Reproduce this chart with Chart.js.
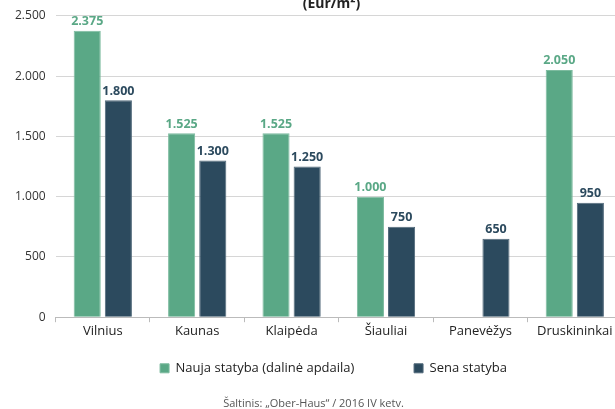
<!DOCTYPE html>
<html>
<head>
<meta charset="utf-8">
<script src="https://cdn.jsdelivr.net/npm/chart.js@4/dist/chart.umd.min.js"></script>
<style>
  html, body { margin: 0; padding: 0; background: #fff; overflow: hidden; }
  .wrap { position: absolute; left: 0; top: -11px; width: 622px; height: 422px; }
</style>
</head>
<body>
<div class="wrap"><canvas id="chart"></canvas></div>
<script>
// Chart values
const cities = ['Vilnius', 'Kaunas', 'Klaipėda', 'Šiauliai', 'Panevėžys', 'Druskininkai'];
const newBuild = [2375, 1525, 1525, 1000, null, 2050];
const oldBuild = [1800, 1300, 1250, 750, 650, 950];
const seriesNames = ['Nauja statyba (dalinė apdaila)', 'Sena statyba'];
const titleText = '(Eur/m²)';
const sourceText = 'Šaltinis: „Ober-Haus“ / 2016 IV ketv.';

const GREEN = '#5aa886';
const NAVY = '#2c4a5e';
const FONT = '"Open Sans", "DejaVu Sans", sans-serif';

function fmt(v) {
    return String(v).replace(/\B(?=(\d{3})+(?!\d))/g, '.');
}

// Draws the bold value above each bar
const valueLabels = {
    id: 'valueLabels',
    afterDatasetsDraw(chart) {
        const ctx = chart.ctx;
        ctx.save();
        ctx.font = 'bold 12.5px ' + FONT;
        ctx.textAlign = 'center';
        ctx.textBaseline = 'bottom';
        chart.data.datasets.forEach((ds, i) => {
            const meta = chart.getDatasetMeta(i);
            ctx.fillStyle = ds.labelColor;
            meta.data.forEach((bar, j) => {
                if (ds.data[j] == null) return;
                ctx.fillText(fmt(ds.data[j]), bar.x, bar.y - 3);
            });
        });
        ctx.restore();
    }
};

// The original centres title and legend a bit right of the canvas middle
const shiftBlocks = {
    id: 'shiftBlocks',
    afterLayout(chart) {
        const moves = [[chart.titleBlock, 18], [chart.legend, 20]];
        moves.forEach(([box, dx]) => {
            if (!box) return;
            box.left += dx;
            box.right += dx;
        });
    }
};

new Chart(document.getElementById('chart'), {
    type: 'bar',
    data: {
        labels: cities,
        datasets: [
            {
                label: seriesNames[0],
                data: newBuild,
                backgroundColor: GREEN,
                borderColor: '#7dbb9f',
                borderWidth: 1,
                labelColor: GREEN,
            },
            {
                label: seriesNames[1],
                data: oldBuild,
                backgroundColor: NAVY,
                borderColor: '#51697a',
                borderWidth: 1,
                labelColor: NAVY,
            },
        ],
    },
    options: {
        responsive: true,
        maintainAspectRatio: false,
        animation: false,
        categoryPercentage: 0.66,
        barPercentage: 0.87,
        layout: { padding: { left: 5, right: 0, top: 0, bottom: 0 } },
        plugins: {
            title: {
                display: true,
                text: titleText,
                color: '#222',
                font: { family: FONT, size: 14, weight: 'bold' },
                padding: { top: 7, bottom: 3 },
            },
            subtitle: {
                display: true,
                position: 'bottom',
                text: sourceText,
                color: '#555',
                font: { family: FONT, size: 11 },
                padding: { top: 12, bottom: 1 },
            },
            legend: {
                position: 'bottom',
                labels: {
                    boxWidth: 9,
                    boxHeight: 9,
                    padding: 12,
                    color: '#222',
                    font: { family: FONT, size: 13 },
                    generateLabels(chart) {
                        const items = Chart.defaults.plugins.legend.labels.generateLabels(chart);
                        // wide gap between the two legend entries
                        items[0].text = items[0].text + '\u2002'.repeat(7) + '\u2009';
                        return items;
                    },
                },
            },
            tooltip: { enabled: false },
        },
        scales: {
            x: {
                grid: { drawOnChartArea: false, drawTicks: true, tickLength: 5, color: '#bbb' },
                border: { color: '#bbb' },
                ticks: { color: '#222', font: { family: FONT, size: 13 }, padding: 1 },
                afterFit(axis) { axis.height += 10; },
            },
            y: {
                min: 0,
                max: 2500,
                grid: { color: '#d6d6d6', drawTicks: false },
                border: { display: false },
                ticks: {
                    stepSize: 500,
                    color: '#333',
                    padding: 10,
                    font: { family: FONT, size: 12 },
                    callback: (v) => fmt(v),
                },
            },
        },
    },
    plugins: [valueLabels, shiftBlocks],
});
</script>
</body>
</html>
